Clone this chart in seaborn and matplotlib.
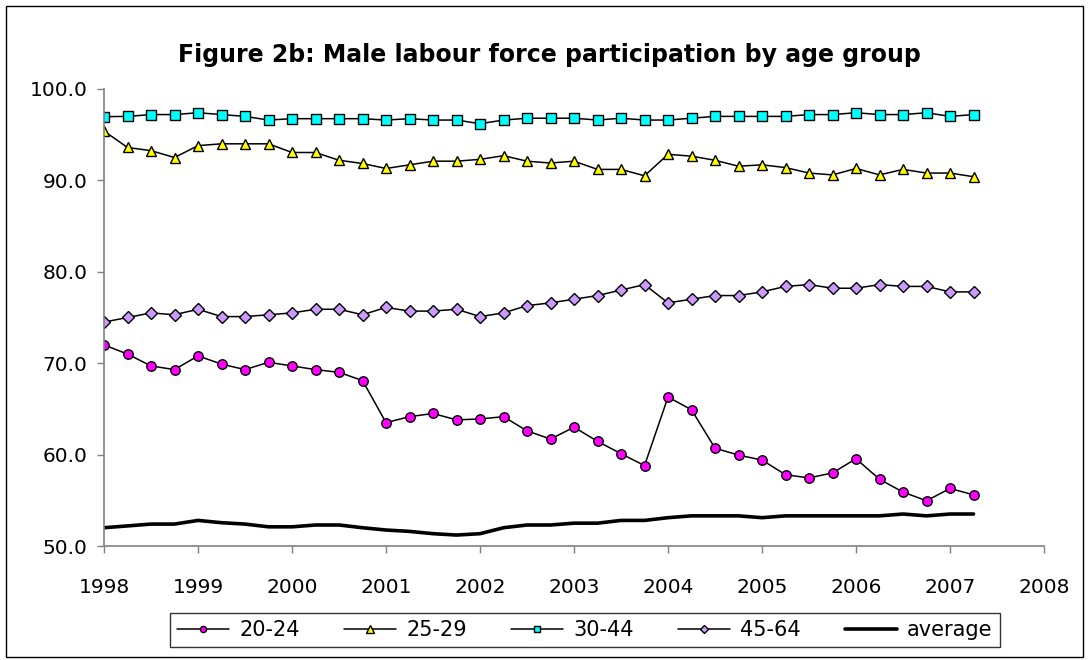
import numpy as np
import pandas as pd
import seaborn as sns
import matplotlib
matplotlib.use('Agg')
import matplotlib.pyplot as plt
from matplotlib.patches import Rectangle

# quarterly periods 1998Q1 - 2007Q2
periods = pd.period_range('1998Q1', '2007Q2', freq='Q')

age_20_24 = [72.0, 71.0, 69.7, 69.3, 70.8, 69.9, 69.3, 70.1, 69.7, 69.3, 69.0, 68.1,
             63.5, 64.15, 64.5, 63.8, 63.9, 64.15, 62.6, 61.7, 63.0, 61.45, 60.1, 58.8,
             66.3, 64.9, 60.7, 59.95, 59.4, 57.8, 57.45, 58.0, 59.55, 57.3, 55.9, 54.95,
             56.3, 55.6]
age_25_29 = [95.4, 93.6, 93.25, 92.5, 93.8, 94.0, 94.0, 94.0, 93.05, 93.05, 92.2, 91.85,
             91.3, 91.7, 92.1, 92.1, 92.3, 92.7, 92.1, 91.9, 92.1, 91.2, 91.2, 90.5,
             92.85, 92.65, 92.2, 91.55, 91.7, 91.4, 90.8, 90.6, 91.3, 90.6, 91.2, 90.8,
             90.8, 90.4]
age_30_44 = [96.97, 97.0, 97.2, 97.2, 97.4, 97.2, 97.0, 96.6, 96.75, 96.75, 96.75, 96.75,
             96.6, 96.75, 96.6, 96.6, 96.2, 96.6, 96.8, 96.8, 96.8, 96.6, 96.8, 96.6,
             96.6, 96.8, 97.0, 97.0, 97.0, 97.0, 97.2, 97.2, 97.4, 97.2, 97.2, 97.4,
             97.0, 97.2]
age_45_64 = [74.5, 75.0, 75.5, 75.3, 75.9, 75.1, 75.1, 75.3, 75.5, 75.9, 75.9, 75.3,
             76.1, 75.7, 75.7, 75.9, 75.1, 75.5, 76.3, 76.6, 77.0, 77.4, 78.0, 78.6,
             76.6, 77.0, 77.4, 77.4, 77.8, 78.4, 78.6, 78.2, 78.2, 78.6, 78.4, 78.4,
             77.8, 77.8]
average = [52.0, 52.2, 52.4, 52.4, 52.8, 52.55, 52.4, 52.1, 52.1, 52.3, 52.3, 52.0,
           51.75, 51.6, 51.35, 51.2, 51.35, 52.0, 52.3, 52.3, 52.5, 52.5, 52.8, 52.8,
           53.1, 53.3, 53.3, 53.3, 53.1, 53.3, 53.3, 53.3, 53.3, 53.3, 53.5, 53.3,
           53.5, 53.5]

year_ticks = list(range(1998, 2009))
y_ticks = [50, 60, 70, 80, 90, 100]

t = periods.year + (periods.quarter - 1) / 4

df = pd.DataFrame({'t': t, '20-24': age_20_24, '25-29': age_25_29,
                   '30-44': age_30_44, '45-64': age_45_64, 'average': average})

styles = {
    '20-24': dict(marker='o', markerfacecolor='#FF00FF', markersize=6.8),
    '25-29': dict(marker='^', markerfacecolor='#FFFF00', markersize=7.8),
    '30-44': dict(marker='s', markerfacecolor='#00FFFF', markersize=6.8),
    '45-64': dict(marker='D', markerfacecolor='#CC99FF', markersize=5.8),
}

sns.set_style('white')
plt.rcParams['font.family'] = ['DejaVu Sans']
plt.rcParams['text.color'] = 'black'

fig = plt.figure(figsize=(10.88, 6.6), dpi=100)
ax = fig.add_axes([0.0956, 0.1727, 0.864, 0.6925])

for name, st in styles.items():
    sns.lineplot(data=df, x='t', y=name, ax=ax, color='black', linewidth=1.1,
                 markeredgecolor='black', markeredgewidth=1.0, errorbar=None,
                 label=name, **st)
sns.lineplot(data=df, x='t', y='average', ax=ax, color='black', linewidth=2.6,
             errorbar=None, label='average')

ax.set_xlim(1998, 2008)
ax.set_ylim(50, 100)
ax.set_xticks(year_ticks)
ax.set_xticklabels([str(y) for y in year_ticks])
ax.set_yticks(y_ticks)
ax.set_yticklabels([f'{v:.1f}' for v in y_ticks])
ax.set_xlabel('')
ax.set_ylabel('')
ax.tick_params(axis='both', labelsize=14.5, colors='#808080', labelcolor='black',
               length=5, width=1, direction='out', bottom=True, left=True)
ax.tick_params(axis='y', pad=7)
ax.tick_params(axis='x', pad=18)
sns.despine(ax=ax)
for side in ['left', 'bottom']:
    ax.spines[side].set_color('#808080')
    ax.spines[side].set_linewidth(1.2)

handles, labels = ax.get_legend_handles_labels()
ax.get_legend().remove()
leg = fig.legend(handles, labels, loc='center', bbox_to_anchor=(0.5377, 0.0455),
                 ncol=5, fontsize=15, frameon=True, fancybox=False,
                 edgecolor='black', markerscale=0.65, handlelength=2.5,
                 handletextpad=0.5, columnspacing=2.1, borderpad=0.35,
                 labelcolor='black')
leg.get_frame().set_linewidth(1.0)

fig.text(0.505, 0.917, 'Figure 2b: Male labour force participation by age group',
         ha='center', va='center', fontsize=17, fontweight='bold', color='black')

fig.patches.append(Rectangle((6 / 1088, 3 / 660), 1077 / 1088, 651 / 660,
                             transform=fig.transFigure, fill=False,
                             edgecolor='black', linewidth=1.0))

plt.savefig('out.png', dpi=100)
plt.close()
